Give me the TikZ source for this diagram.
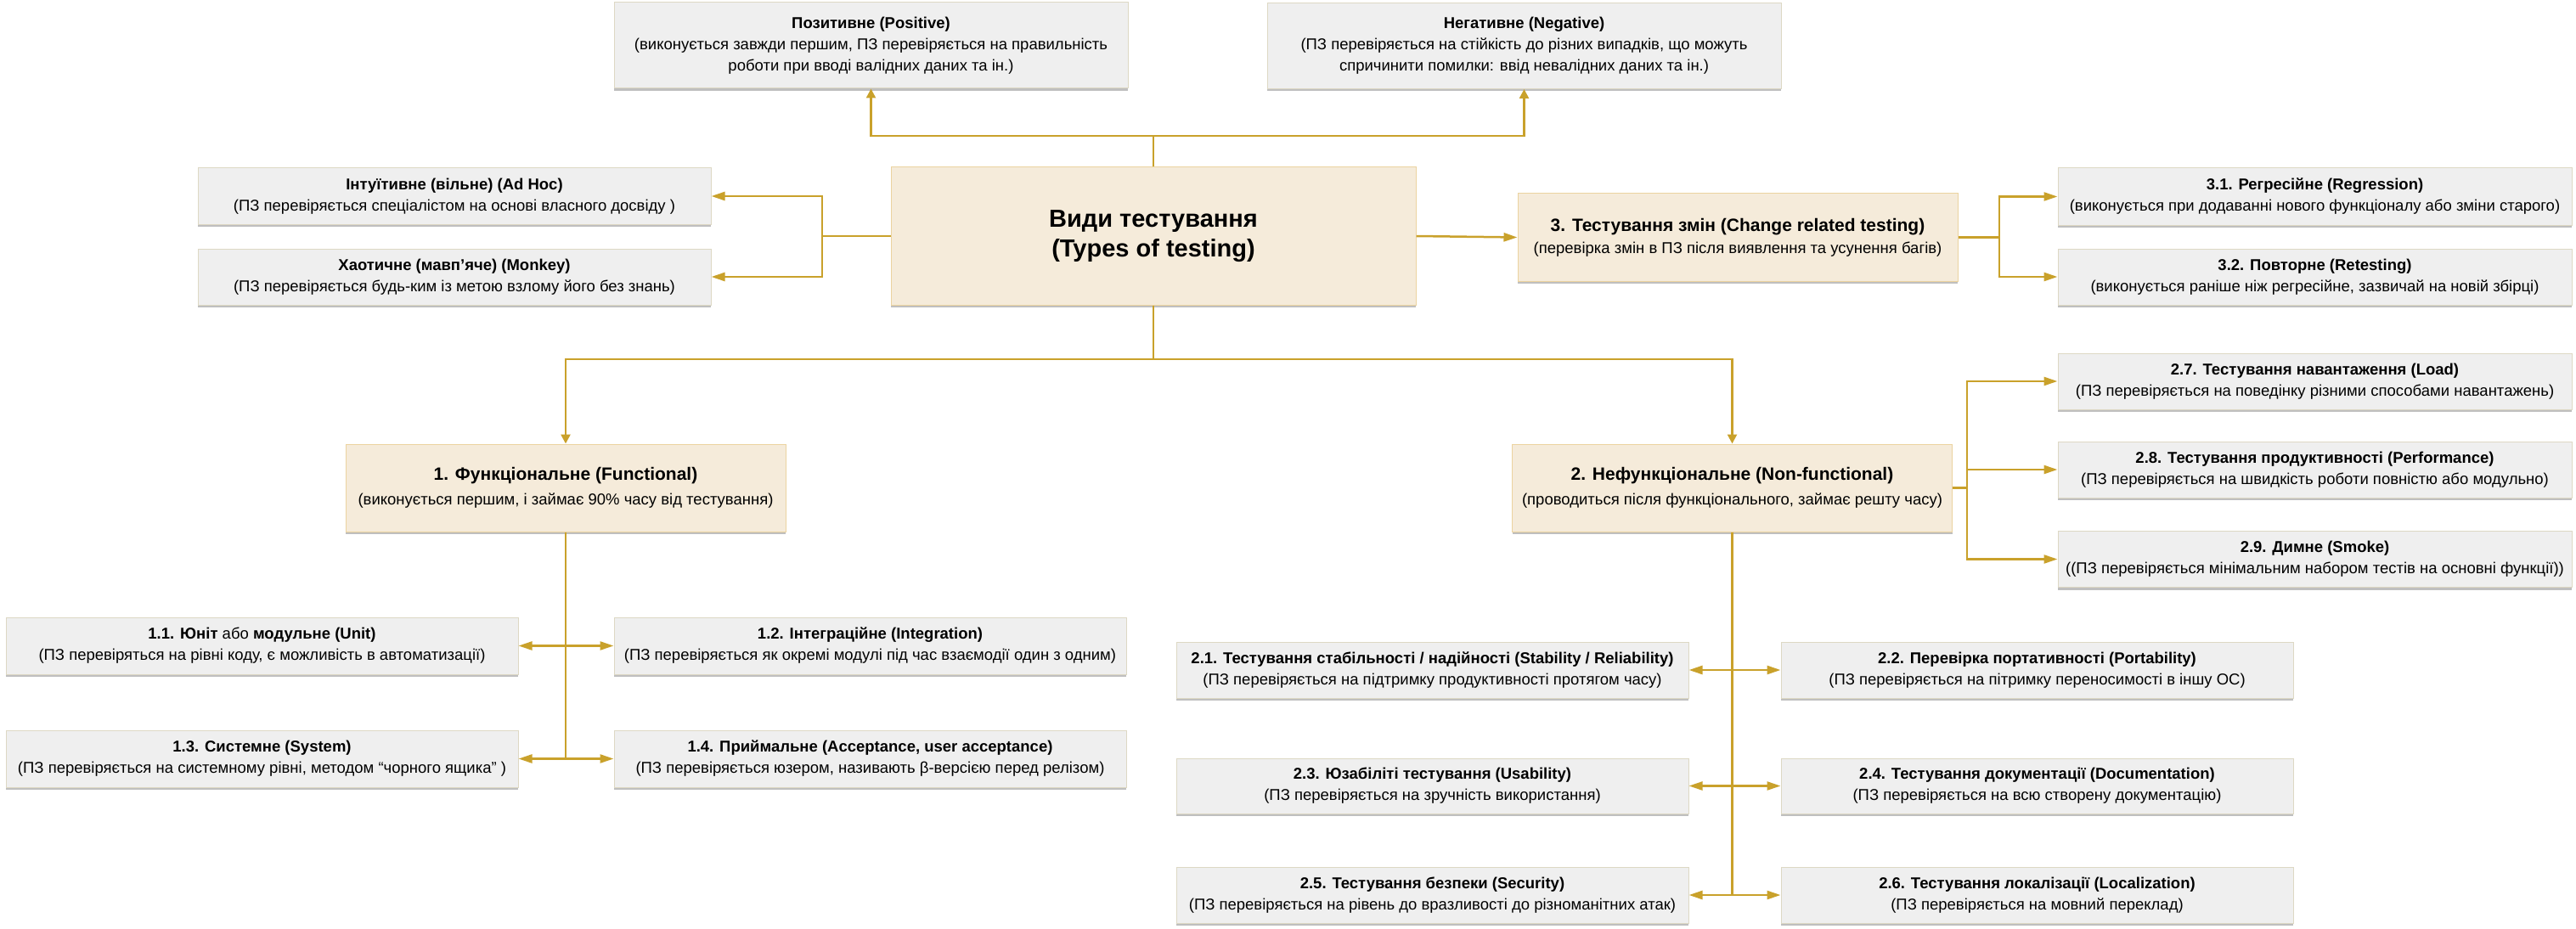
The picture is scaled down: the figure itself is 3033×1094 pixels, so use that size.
\documentclass[tikz,border=0pt]{standalone}
\usepackage{fontspec}
\setmainfont{Liberation Sans}
\usetikzlibrary{arrows.meta,shadows}
\definecolor{linec}{HTML}{C9A12B}
\definecolor{beigefill}{HTML}{F5EBDA}
\definecolor{beigeline}{HTML}{EBD3A0}
\definecolor{grayfill}{HTML}{EFEFEF}
\definecolor{grayline}{HTML}{DDD8C4}
\newcommand{\btitle}[1]{{\fontsize{21}{26}\selectfont\bfseries #1}}
\begin{document}
\begin{tikzpicture}[x=1pt,y=-1pt,
 box/.style={draw, line width=1pt, align=center, inner sep=1pt,
   font=\fontsize{18.5}{25}\selectfont,
   drop shadow={shadow xshift=0pt, shadow yshift=-3pt, opacity=0.25, fill=black}},
 gbox/.style={box, draw=grayline, fill=grayfill, minimum width=604pt, minimum height=66pt},
 bbox/.style={box, draw=beigeline, fill=beigefill, minimum width=518pt, minimum height=103pt},
 conn/.style={draw=linec, line width=2.5pt},
 harr/.style={conn, -{Triangle[length=16pt,width=10pt]}},
 varr/.style={conn, -{Triangle[length=11pt,width=11pt]}},
 darr/.style={conn, {Triangle[length=16pt,width=10pt]}-{Triangle[length=16pt,width=10pt]}}
]
\useasboundingbox (0,0) rectangle (3033,1094);

% top
\node[gbox, minimum height=101pt, minimum width=605pt] (pos) at (1025.5,53.5)
 {{\bfseries Позитивне (Positive)}\\(виконується завжди першим, ПЗ перевіряється на правильність\\роботи при вводі валідних даних та ін.)};
\node[gbox, minimum height=101pt, minimum width=605pt] (neg) at (1794.5,54)
 {{\bfseries Негативне (Negative)}\\(ПЗ перевіряється на стійкість до різних випадків, що можуть\\спричинити помилки: ввід невалідних даних та ін.)};

\node[gbox] (adhoc) at (535,231)
 {{\bfseries Інтуїтивне (вільне) (Ad Hoc)}\\(ПЗ перевіряється спеціалістом на основі власного досвіду )};
\node[gbox] (monkey) at (535,326)
 {{\bfseries Хаотичне (мавп’яче) (Monkey)}\\(ПЗ перевіряється будь-ким із метою взлому його без знань)};

\node[bbox, minimum width=618pt, minimum height=162pt, font=\fontsize{29}{35}\selectfont\bfseries] (root) at (1358,278)
 {Види тестування\\(Types of testing)};

\node[bbox] (ch) at (2046,279.5)
 {\btitle{3. Тестування змін (Change related testing)}\\[1pt](перевірка змін в ПЗ після виявлення та усунення багів)};
\node[gbox, minimum width=605pt, minimum height=67pt] (r31) at (2725.5,231.5)
 {{\bfseries 3.1. Регресійне (Regression)}\\(виконується при додаванні нового функціоналу або зміни старого)};
\node[gbox, minimum width=605pt] (r32) at (2725.5,326)
 {{\bfseries 3.2. Повторне (Retesting)}\\(виконується раніше ніж регресійне, зазвичай на новій збірці)};

% level 1
\node[bbox] (fun) at (666,574.5)
 {\btitle{1. Функціональне (Functional)}\\[4pt](виконується першим, і займає 90\% часу від тестування)};
\node[bbox] (nf) at (2039.5,574.5)
 {\btitle{2. Нефункціональне (Non-functional)}\\[4pt](проводиться після функціонального, займає решту часу)};

\node[gbox, minimum width=605pt] (n27) at (2725.5,449)
 {{\bfseries 2.7. Тестування навантаження (Load)}\\(ПЗ перевіряється на поведінку різними способами навантажень)};
\node[gbox, minimum width=605pt] (n28) at (2725.5,553)
 {{\bfseries 2.8. Тестування продуктивності (Performance)}\\(ПЗ перевіряється на швидкість роботи повністю або модульно)};
\node[gbox, minimum width=605pt] (n29) at (2725.5,658.5)
 {{\bfseries 2.9. Димне (Smoke)}\\((ПЗ перевіряється мінімальним набором тестів на основні функції))};

% functional children
\node[gbox, minimum width=603pt, minimum height=67pt] (u11) at (308.5,760.5)
 {{\bfseries 1.1. Юніт} або {\bfseries модульне (Unit)}\\(ПЗ перевіряться на рівні коду, є можливість в автоматизації)};
\node[gbox, minimum width=603pt, minimum height=67pt] (u12) at (1024.5,760.5)
 {{\bfseries 1.2. Інтеграційне (Integration)}\\(ПЗ перевіряється як окремі модулі під час взаємодії один з одним)};
\node[gbox, minimum width=603pt, minimum height=67pt] (u13) at (308.5,893.5)
 {{\bfseries 1.3. Системне (System)}\\(ПЗ перевіряється на системному рівні, методом “чорного ящика” )};
\node[gbox, minimum width=603pt, minimum height=67pt] (u14) at (1024.5,893.5)
 {{\bfseries 1.4. Приймальне (Acceptance, user acceptance)}\\(ПЗ перевіряється юзером, називають β-версією перед релізом)};

% non-functional children
\node[gbox, minimum width=603pt] (n21) at (1686.5,789)
 {{\bfseries 2.1. Тестування стабільності / надійності (Stability / Reliability)}\\(ПЗ перевіряється на підтримку продуктивності протягом часу)};
\node[gbox, minimum width=603pt] (n22) at (2398.5,789)
 {{\bfseries 2.2. Перевірка портативності (Portability)}\\(ПЗ перевіряється на пітримку переносимості в іншу ОС)};
\node[gbox, minimum width=603pt, minimum height=65pt] (n23) at (1686.5,925.5)
 {{\bfseries 2.3. Юзабіліті тестування (Usability)}\\(ПЗ перевіряється на зручність використання)};
\node[gbox, minimum width=603pt, minimum height=65pt] (n24) at (2398.5,925.5)
 {{\bfseries 2.4. Тестування документації (Documentation)}\\(ПЗ перевіряється на всю створену документацію)};
\node[gbox, minimum width=603pt] (n25) at (1686.5,1054)
 {{\bfseries 2.5. Тестування безпеки (Security)}\\(ПЗ перевіряється на рівень до вразливості до різноманітних атак)};
\node[gbox, minimum width=603pt] (n26) at (2398.5,1054)
 {{\bfseries 2.6. Тестування локалізації (Localization)}\\(ПЗ перевіряється на мовний переклад)};

% connectors
\coordinate (tj) at (1358,160);
\draw[conn] (root.north) -- (tj);
\draw[varr] (tj) -| (pos.south);
\draw[varr] (tj) -| (neg.south);

\coordinate (lj) at (968,278);
\draw[conn] (root.west) -- (lj);
\draw[harr] (lj) |- (adhoc.east);
\draw[harr] (lj) |- (monkey.east);

\draw[harr] (root.east) -- (ch.west);
\coordinate (cj) at (2354,279.5);
\draw[conn] (ch.east) -- (cj);
\draw[harr] (cj) |- (r31.west);
\draw[harr] (cj) |- (r32.west);

\coordinate (bj) at (1358,423);
\draw[conn] (root.south) -- (bj);
\draw[varr] (bj) -| (fun.north);
\draw[varr] (bj) -| (nf.north);

\coordinate (nj) at (2316,574.5);
\draw[conn] (nf.east) -- (nj);
\draw[harr] (nj) |- (n27.west);
\draw[harr] (nj) |- (n28.west);
\draw[harr] (nj) |- (n29.west);

\draw[conn] (fun.south) -- (fun.south |- u13.east);
\draw[darr] (u11.east) -- (u12.west);
\draw[darr] (u13.east) -- (u14.west);

\draw[conn] (nf.south) -- (nf.south |- n25.east);
\draw[darr] (n21.east) -- (n22.west);
\draw[darr] (n23.east) -- (n24.west);
\draw[darr] (n25.east) -- (n26.west);
\end{tikzpicture}
\end{document}
